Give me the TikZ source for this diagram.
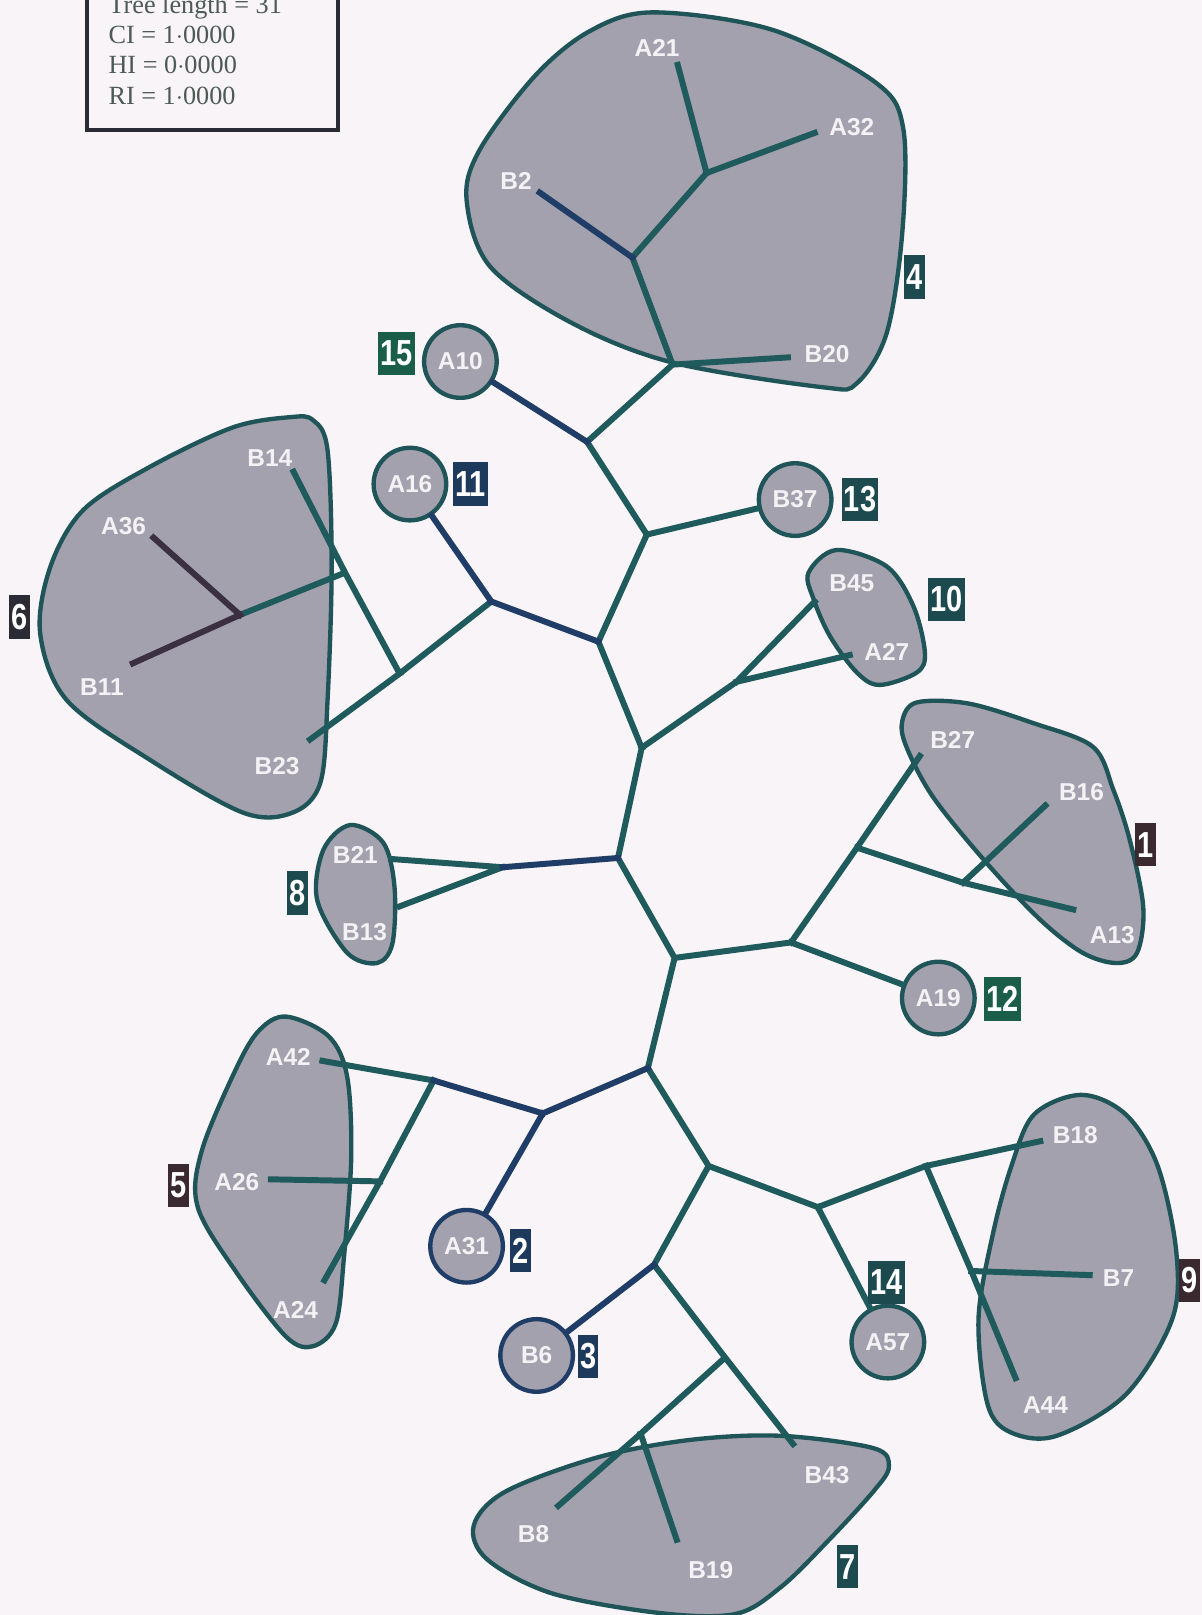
\documentclass[tikz,border=0pt]{standalone}
\usepackage{fontspec}
\setmainfont{Liberation Serif}
\newfontfamily\taxfont{Liberation Sans}
\newfontfamily\numfont[FakeStretch=0.8]{Liberation Sans}
\usetikzlibrary{positioning}
\definecolor{paper}{HTML}{F8F4F7}
\definecolor{brteal}{HTML}{1F5A5C}
\definecolor{brnavy}{HTML}{1F3D66}
\definecolor{brplum}{HTML}{3A3042}
\definecolor{cladefill}{HTML}{A3A1AD}
\definecolor{cladeline}{HTML}{1F5558}
\definecolor{taxtext}{HTML}{F4F2F5}
\definecolor{stattext}{HTML}{4D5A55}
\definecolor{numgreen}{HTML}{1A5E4A}
\definecolor{numteal}{HTML}{1D4A4F}
\definecolor{numnavy}{HTML}{1D3A5C}
\definecolor{numdark}{HTML}{2B2B35}
\definecolor{numplum}{HTML}{3A2A30}
\tikzset{
    branch/.style={draw=brteal, line width=3.3pt, line cap=rect},
    nbranch/.style={branch, draw=brnavy},
    pbranch/.style={branch, draw=brplum},
    clade/.style={draw=cladeline, line width=2.4pt, fill=cladefill},
    taxon/.style={circle, draw=cladeline, line width=2.4pt, fill=cladefill, minimum size=14.1mm, inner sep=0pt, text=taxtext, font=\taxfont\fontsize{13.5}{15}\selectfont\bfseries},
    tlabel/.style={inner sep=0pt, text=taxtext, font=\taxfont\fontsize{13.5}{15}\selectfont\bfseries},
    cnum/.style={fill=#1, text=white, minimum height=8.4mm, inner xsep=0.45mm, inner ysep=0pt, font=\numfont\fontsize{20}{20}\selectfont\bfseries},
    statline/.style={anchor=base west, inner sep=0pt, text=stattext, font=\fontsize{14.5}{16}\selectfont},
}
\begin{document}
\begin{tikzpicture}[x=0.2mm, y=-0.2mm]
    \useasboundingbox[fill=paper] (0,0) rectangle (1167,1568);
    \draw[draw=numdark, line width=2.2pt] (84,-40) rectangle (328,126);
    \node[statline] (tl) at (105,13) {Tree length = 31};
    \node[statline] (ci) at (105,42) {CI = 1$\cdot$0000};
    \node[statline] (hi) at (105,71) {HI = 0$\cdot$0000};
    \node[statline] (ri) at (105,101) {RI = 1$\cdot$0000};

    \draw[clade] plot[smooth cycle, tension=0.55] coordinates {(634,12) (750,29) (850,80) (877,125) (876,226) (861,323) (832,372) (799,376) (653,352) (556,314) (476,259) (453,194) (466,145) (520,73) (573,30)};
    \draw[clade] plot[smooth cycle, tension=0.55] coordinates {(226,415) (282,405) (304,408) (318,437) (322,550) (318,680) (311,760) (284,789) (236,789) (146,738) (65,680) (39,615) (49,550) (81,495) (146,453)};
    \draw[clade] plot[smooth cycle, tension=0.55] coordinates {(785,556) (812,534) (861,550) (887,589) (898,634) (890,653) (854,665) (832,653) (806,618) (790,582)};
    \draw[clade] plot[smooth cycle, tension=0.55] coordinates {(876,700) (890,682) (940,683) (1003,702) (1061,725) (1081,767) (1097,816) (1110,881) (1104,925) (1084,935) (1051,925) (1010,893) (958,838) (906,774) (880,725)};
    \draw[clade] plot[smooth cycle, tension=0.55] coordinates {(340,801) (372,818) (383,861) (381,916) (366,935) (337,925) (308,874) (314,825)};
    \draw[clade] plot[smooth cycle, tension=0.55] coordinates {(278,987) (319,1006) (337,1045) (341,1123) (334,1220) (326,1285) (304,1307) (278,1298) (230,1236) (192,1172) (196,1117) (230,1036) (252,1000)};
    \draw[clade] plot[smooth cycle, tension=0.55] coordinates {(1050,1063) (1093,1082) (1124,1132) (1142,1215) (1138,1281) (1093,1354) (1026,1394) (982,1391) (959,1364) (950,1281) (964,1198) (982,1132) (1004,1082)};
    \draw[clade] plot[smooth cycle, tension=0.55] coordinates {(460,1481) (491,1448) (580,1415) (670,1398) (758,1394) (848,1406) (863,1424) (848,1448) (803,1497) (758,1541) (714,1567) (640,1566) (536,1547) (473,1514)};

    \coordinate (na) at (686,168);
    \coordinate (nb) at (614,250);
    \coordinate (nc) at (653,354);
    \coordinate (nd) at (570,429);
    \coordinate (ne) at (628,519);
    \coordinate (nf) at (581,623);
    \coordinate (ng) at (477,584);
    \coordinate (nh) at (388,654);
    \coordinate (nj) at (335,556);
    \coordinate (ni) at (233,597);
    \coordinate (nk) at (623,726);
    \coordinate (nl) at (715,662);
    \coordinate (nm) at (600,833);
    \coordinate (n8) at (488,842);
    \coordinate (nn) at (655,930);
    \coordinate (no) at (768,915);
    \coordinate (np) at (832,823);
    \coordinate (nq) at (935,857);
    \coordinate (nt) at (629,1037);
    \coordinate (ns) at (527,1081);
    \coordinate (nr) at (421,1049);
    \coordinate (nu) at (369,1147);
    \coordinate (nv) at (688,1132);
    \coordinate (nx) at (794,1172);
    \coordinate (ny) at (899,1132);
    \coordinate (nz) at (943,1234);
    \coordinate (nw) at (635,1228);
    \coordinate (nab) at (704,1318);
    \coordinate (naa) at (622,1392);

    \coordinate (A21) at (658,63);
    \coordinate (A32) at (791,129);
    \coordinate (B2) at (524,187);
    \coordinate (B20) at (765,347);
    \coordinate (B14) at (285,458);
    \coordinate (A36) at (149,522);
    \coordinate (B11) at (129,644);
    \coordinate (B23) at (301,718);
    \coordinate (B45) at (791,584);
    \coordinate (A27) at (825,636);
    \coordinate (B27) at (893,734);
    \coordinate (B16) at (1015,782);
    \coordinate (A13) at (1042,883);
    \coordinate (B21) at (380,834);
    \coordinate (B13) at (388,880);
    \coordinate (A42) at (313,1030);
    \coordinate (A26) at (263,1145);
    \coordinate (A24) at (315,1243);
    \coordinate (B18) at (1010,1108);
    \coordinate (B7) at (1058,1238);
    \coordinate (A44) at (986,1338);
    \coordinate (B43) at (770,1402);
    \coordinate (B8) at (542,1462);
    \coordinate (B19) at (657,1495);

    \node[taxon] (A10) at (447,351) {A10};
    \node[taxon] (A16) at (398,470) {A16};
    \node[taxon] (B37) at (772,485) {B37};
    \node[taxon] (A19) at (911,969) {A19};
    \node[taxon, draw=brnavy] (A31) at (453,1210) {A31};
    \node[taxon, draw=brnavy] (B6) at (521,1316) {B6};
    \node[taxon] (A57) at (862,1303) {A57};

    \draw[branch] (na) -- (A21) (na) -- (A32) (na) -- (nb) (nb) -- (nc) (nc) -- (B20) (nc) -- (nd)
        (nd) -- (ne) (ne) -- (B37) (ne) -- (nf) (ng) -- (nh) (nh) -- (B23) (nh) -- (nj) (nj) -- (B14) (nj) -- (ni)
        (nf) -- (nk) (nk) -- (nl) (nl) -- (B45) (nl) -- (A27) (nk) -- (nm) (n8) -- (B21) (n8) -- (B13)
        (nm) -- (nn) (nn) -- (no) (no) -- (A19) (no) -- (np) (np) -- (B27) (np) -- (nq) (nq) -- (B16) (nq) -- (A13)
        (nn) -- (nt) (nr) -- (A42) (nr) -- (nu) (nu) -- (A26) (nu) -- (A24)
        (nt) -- (nv) (nv) -- (nx) (nx) -- (A57) (nx) -- (ny) (ny) -- (B18) (ny) -- (nz) (nz) -- (B7) (nz) -- (A44)
        (nv) -- (nw) (nw) -- (nab) (nab) -- (B43) (nab) -- (naa) (naa) -- (B8) (naa) -- (B19);
    \draw[nbranch] (nb) -- (B2) (nd) -- (A10) (nf) -- (ng) (ng) -- (A16) (nm) -- (n8)
        (nt) -- (ns) (ns) -- (A31) (ns) -- (nr) (nw) -- (B6);
    \draw[pbranch] (ni) -- (A36) (ni) -- (B11);

    \node[tlabel] (lA21) at (638,47) {A21};
    \node[tlabel] (lA32) at (827,123) {A32};
    \node[tlabel] (lB2) at (501,176) {B2};
    \node[tlabel] (lB20) at (803,344) {B20};
    \node[tlabel] (lB14) at (262,445) {B14};
    \node[tlabel] (lA36) at (120,511) {A36};
    \node[tlabel] (lB11) at (99,667) {B11};
    \node[tlabel] (lB23) at (269,744) {B23};
    \node[tlabel] (lB45) at (827,566) {B45};
    \node[tlabel] (lA27) at (861,633) {A27};
    \node[tlabel] (lB27) at (925,718) {B27};
    \node[tlabel] (lB16) at (1050,769) {B16};
    \node[tlabel] (lA13) at (1080,908) {A13};
    \node[tlabel] (lB21) at (345,830) {B21};
    \node[tlabel] (lB13) at (354,905) {B13};
    \node[tlabel] (lA42) at (280,1026) {A42};
    \node[tlabel] (lA26) at (230,1148) {A26};
    \node[tlabel] (lA24) at (287,1272) {A24};
    \node[tlabel] (lB18) at (1044,1102) {B18};
    \node[tlabel] (lB7) at (1086,1241) {B7};
    \node[tlabel] (lA44) at (1015,1364) {A44};
    \node[tlabel] (lB43) at (803,1432) {B43};
    \node[tlabel] (lB8) at (518,1489) {B8};
    \node[tlabel] (lB19) at (690,1524) {B19};

    \node[cnum=numgreen] (c15) at (385,343) {15};
    \node[cnum=numteal] (c4) at (888,269) {4};
    \node[cnum=numnavy] (c11) at (457,470) {11};
    \node[cnum=numteal] (c13) at (835,485) {13};
    \node[cnum=numteal] (c10) at (919,582) {10};
    \node[cnum=numdark] (c6) at (19,599) {6};
    \node[cnum=numteal] (c8) at (289,867) {8};
    \node[cnum=numplum] (c1) at (1112,820) {1};
    \node[cnum=numgreen] (c12) at (973,970) {12};
    \node[cnum=numplum] (c5) at (173,1151) {5};
    \node[cnum=numnavy] (c2) at (505,1214) {2};
    \node[cnum=numteal] (c14) at (861,1245) {14};
    \node[cnum=numnavy] (c3) at (571,1317) {3};
    \node[cnum=numplum] (c9) at (1155,1243) {9};
    \node[cnum=numteal] (c7) at (823,1521) {7};
\end{tikzpicture}
\end{document}
